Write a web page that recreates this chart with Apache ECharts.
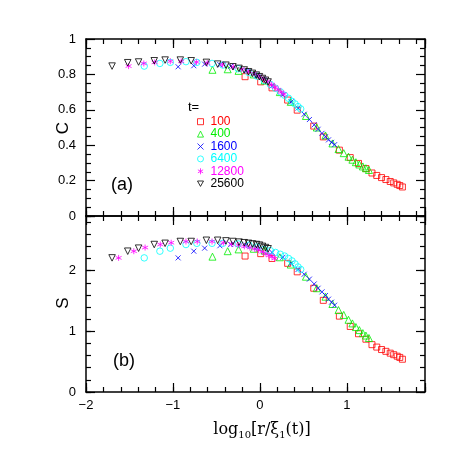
<!DOCTYPE html>
<html>
<head>
<meta charset="utf-8">
<script src="https://cdn.jsdelivr.net/npm/echarts@6/dist/echarts.min.js"></script>
<style>
  html, body { margin: 0; padding: 0; background: #fff; }
  #chart { width: 463px; height: 463px; }
</style>
</head>
<body>
<div id="chart"></div>
<script>
// legend labels (t)
const tLabels = ['100', '400', '1600', '6400', '12800', '25600']

// x = log10[r/xi1(t)], C (top panel) and S (bottom panel)
const x100 = [-0.17, 0.01, 0.14, 0.32, 0.43, 0.62, 0.73, 0.915, 1.04, 1.135, 1.22, 1.29, 1.345, 1.40, 1.45, 1.50, 1.54, 1.58, 1.61, 1.64]
const c100 = [0.787, 0.758, 0.724, 0.655, 0.598, 0.508, 0.447, 0.372, 0.33, 0.297, 0.268, 0.243, 0.229, 0.217, 0.206, 0.195, 0.187, 0.179, 0.172, 0.164]
const s100 = [2.24, 2.28, 2.20, 2.12, 1.98, 1.71, 1.51, 1.25, 1.08, 0.96, 0.87, 0.78, 0.74, 0.70, 0.67, 0.64, 0.615, 0.59, 0.57, 0.54]

const x400 = [-0.545, -0.37, -0.245, -0.07, 0.055, 0.23, 0.355, 0.53, 0.655, 0.755, 0.835, 0.905, 0.965, 1.02, 1.065, 1.105, 1.145, 1.185, 1.22, 1.255]
const c400 = [0.826, 0.829, 0.82, 0.80, 0.765, 0.70, 0.645, 0.565, 0.50, 0.455, 0.41, 0.378, 0.355, 0.335, 0.318, 0.304, 0.291, 0.28, 0.27, 0.26]
const s400 = [2.23, 2.32, 2.35, 2.36, 2.33, 2.22, 2.10, 1.90, 1.71, 1.57, 1.45, 1.35, 1.27, 1.19, 1.13, 1.07, 1.02, 0.97, 0.93, 0.89]

const x1600 = [-0.94, -0.76, -0.635, -0.46, -0.335, -0.16, -0.035, 0.14, 0.265, 0.36, 0.44, 0.51, 0.57, 0.625, 0.67, 0.715, 0.755, 0.79, 0.825, 0.86]
const c1600 = [0.843, 0.849, 0.858, 0.855, 0.846, 0.822, 0.792, 0.735, 0.685, 0.645, 0.61, 0.575, 0.545, 0.515, 0.49, 0.467, 0.448, 0.43, 0.416, 0.403]
const s1600 = [2.21, 2.32, 2.37, 2.41, 2.43, 2.42, 2.38, 2.30, 2.22, 2.12, 2.02, 1.94, 1.86, 1.78, 1.71, 1.65, 1.59, 1.53, 1.48, 1.43]

const x6400 = [-1.33, -1.15, -1.03, -0.85, -0.725, -0.55, -0.425, -0.25, -0.125, -0.03, 0.05, 0.12, 0.18, 0.235, 0.285, 0.33, 0.37, 0.405, 0.44, 0.47]
const c6400 = [0.847, 0.862, 0.868, 0.872, 0.868, 0.862, 0.853, 0.832, 0.81, 0.79, 0.766, 0.744, 0.722, 0.702, 0.682, 0.665, 0.648, 0.633, 0.618, 0.605]
const s6400 = [2.21, 2.32, 2.37, 2.43, 2.45, 2.45, 2.45, 2.44, 2.42, 2.39, 2.35, 2.33, 2.30, 2.27, 2.24, 2.20, 2.16, 2.11, 2.06, 2.02]

// t=12800 sits at slightly different x in the two panels
const x12800C = [-1.51, -1.335, -1.21, -1.03, -0.905, -0.73, -0.605, -0.43, -0.305, -0.21, -0.13, -0.065, -0.005, 0.045, 0.09, 0.135, 0.175, 0.21, 0.245, 0.275]
const c12800 = [0.847, 0.862, 0.868, 0.874, 0.874, 0.870, 0.864, 0.855, 0.842, 0.83, 0.817, 0.805, 0.79, 0.775, 0.76, 0.742, 0.728, 0.714, 0.70, 0.688]
const x12800S = [-1.625, -1.45, -1.32, -1.145, -1.02, -0.85, -0.72, -0.55, -0.42, -0.325, -0.245, -0.178, -0.115, -0.06, -0.015, 0.03, 0.07, 0.105, 0.14, 0.17]
const s12800 = [2.21, 2.32, 2.38, 2.43, 2.46, 2.48, 2.48, 2.48, 2.46, 2.44, 2.42, 2.40, 2.38, 2.36, 2.34, 2.31, 2.28, 2.25, 2.23, 2.20]

const x25600 = [-1.70, -1.52, -1.395, -1.215, -1.09, -0.915, -0.79, -0.615, -0.485, -0.39, -0.31, -0.24, -0.18, -0.13, -0.085, -0.04, -0.005, 0.03, 0.065, 0.095]
const c25600 = [0.847, 0.866, 0.870, 0.877, 0.881, 0.881, 0.877, 0.868, 0.858, 0.852, 0.843, 0.834, 0.825, 0.815, 0.806, 0.796, 0.787, 0.777, 0.767, 0.757]
const s25600 = [2.21, 2.32, 2.37, 2.43, 2.45, 2.48, 2.48, 2.50, 2.50, 2.49, 2.48, 2.47, 2.46, 2.45, 2.44, 2.43, 2.42, 2.40, 2.38, 2.36]

const topX = [x100, x400, x1600, x6400, x12800C, x25600]
const topY = [c100, c400, c1600, c6400, c12800, c25600]
const botX = [x100, x400, x1600, x6400, x12800S, x25600]
const botY = [s100, s400, s1600, s6400, s12800, s25600]

const colors = ['#ff0000', '#00ee00', '#0000ff', '#00ffff', '#ff00ff', '#000000']
const markers = [
  { symbol: 'rect', size: 6 },
  { symbol: 'triangle', size: 7 },
  { symbol: 'path://M0,0L10,10M10,0L0,10', size: 5 },
  { symbol: 'circle', size: 6.5 },
  { symbol: 'path://M5,0L5,10M0.67,2.5L9.33,7.5M0.67,7.5L9.33,2.5', size: 6 },
  { symbol: 'path://M0,0L10,0L5,9Z', size: 6.5 }
]

const sans = 'Liberation Sans'
const frameLine = { show: true, onZero: false, lineStyle: { color: '#000', width: 1.5 } }
const majorTick = { show: true, inside: true, length: 9, lineStyle: { color: '#000', width: 1.2 } }
const shortTick = { show: true, inside: true, length: 5, lineStyle: { color: '#000', width: 1.2 } }
const noLabel = { show: false }
const minus = v => String(v).replace('-', '\u2212')
const intOnly = v => (Number.isInteger(Math.round(v * 1000) / 1000) ? minus(Math.round(v)) : '')

const xMain = (gridIndex, position, label) => ({
  type: 'value', gridIndex, position, min: -2, max: 1.9, interval: 1,
  axisLine: frameLine, axisTick: majorTick, splitLine: { show: false },
  axisLabel: label
    ? { show: true, formatter: intOnly, margin: 7, color: '#000', fontSize: 13, fontFamily: sans }
    : noLabel
})
const xMinor = (gridIndex, position) => ({
  type: 'value', gridIndex, position, min: -2, max: 1.9, interval: 0.2,
  axisLine: { show: false, onZero: false }, axisTick: shortTick, axisLabel: noLabel, splitLine: { show: false }
})

const yTop = (position, label) => ({
  type: 'value', gridIndex: 0, position, min: 0, max: 1, interval: 0.2,
  axisLine: frameLine, axisTick: majorTick,
  minorTick: { show: true, splitNumber: 4, length: 5, lineStyle: { color: '#000', width: 1.2 } },
  splitLine: { show: false }, minorSplitLine: { show: false },
  axisLabel: label ? { show: true, margin: 10, color: '#000', fontSize: 13, fontFamily: sans } : noLabel
})
const yBot = (position, label) => ({
  type: 'value', gridIndex: 1, position, min: 0, max: 2.9, interval: 1,
  axisLine: frameLine, axisTick: majorTick, splitLine: { show: false },
  axisLabel: label ? { show: true, formatter: intOnly, margin: 10, color: '#000', fontSize: 13, fontFamily: sans } : noLabel
})
const yBotMinor = position => ({
  type: 'value', gridIndex: 3, position, min: 0, max: 2.9, interval: 0.2,
  axisLine: { show: false, onZero: false }, axisTick: shortTick, axisLabel: noLabel, splitLine: { show: false }
})

const makeSeries = (xs, ys, xAxisIndex, yAxisIndex) => tLabels.map((t, i) => ({
  name: t,
  type: 'scatter',
  xAxisIndex, yAxisIndex,
  symbol: markers[i].symbol,
  symbolSize: markers[i].size,
  itemStyle: { color: 'none', borderColor: colors[i], borderWidth: 1 },
  emphasis: { disabled: true },
  data: xs[i].map((x, k) => [x, ys[i][k]])
}))

const chart = echarts.init(document.getElementById('chart'), null, { renderer: 'canvas' })

chart.setOption({
  animation: false,
  backgroundColor: '#fff',
  grid: [
    { left: 86, top: 39, width: 339, height: 177 },
    { left: 86, top: 216, width: 339, height: 176 },
    { left: 86, top: 39, width: 339, height: 177 },
    { left: 86, top: 216, width: 339, height: 176 }
  ],
  xAxis: [
    xMain(0, 'bottom', false), xMain(0, 'top', false),
    xMain(1, 'bottom', true), xMain(1, 'top', false),
    xMinor(2, 'bottom'), xMinor(2, 'top'),
    xMinor(3, 'bottom'), xMinor(3, 'top')
  ],
  yAxis: [
    yTop('left', true), yTop('right', false),
    yBot('left', true), yBot('right', false),
    { type: 'value', gridIndex: 2, show: false, min: 0, max: 1 },
    yBotMinor('left'), yBotMinor('right')
  ],
  legend: {
    orient: 'vertical', left: 195, top: 115.7, padding: 0,
    itemWidth: 6, itemHeight: 6, itemGap: 0.4,
    selectedMode: false,
    itemStyle: { borderWidth: 1 },
    textStyle: { fontSize: 12, lineHeight: 12, fontFamily: sans, padding: [0, 0, 0, 2] },
    data: tLabels.map((t, i) => ({ name: t, textStyle: { color: colors[i] } }))
  },
  graphic: [
    { type: 'text', x: 188, y: 107, style: { text: 't=', font: '13px "Liberation Sans"', fill: '#000', align: 'left', verticalAlign: 'middle' } },
    { type: 'text', x: 122, y: 185, style: { text: '(a)', font: '18px "Liberation Sans"', fill: '#000', align: 'center', verticalAlign: 'middle' } },
    { type: 'text', x: 124, y: 361, style: { text: '(b)', font: '18px "Liberation Sans"', fill: '#000', align: 'center', verticalAlign: 'middle' } },
    { type: 'text', x: 63, y: 128, rotation: Math.PI / 2, style: { text: 'C', font: '17px "Liberation Sans"', fill: '#000', align: 'center', verticalAlign: 'middle' } },
    { type: 'text', x: 63, y: 303, rotation: Math.PI / 2, style: { text: 'S', font: '17px "Liberation Sans"', fill: '#000', align: 'center', verticalAlign: 'middle' } },
    {
      type: 'text', x: 262, y: 430,
      style: {
        text: 'log{s|10}[r/\u03be{s|1}(t)]',
        font: '16px "DejaVu Serif"', fill: '#000', align: 'center', verticalAlign: 'middle',
        lineHeight: 20,
        rich: { s: { fontSize: 10, fontFamily: 'DejaVu Serif', lineHeight: 10, verticalAlign: 'bottom', fill: '#000' } }
      }
    }
  ],
  series: [
    ...makeSeries(topX, topY, 0, 0),
    ...makeSeries(botX, botY, 2, 2)
  ]
})
</script>
</body>
</html>
